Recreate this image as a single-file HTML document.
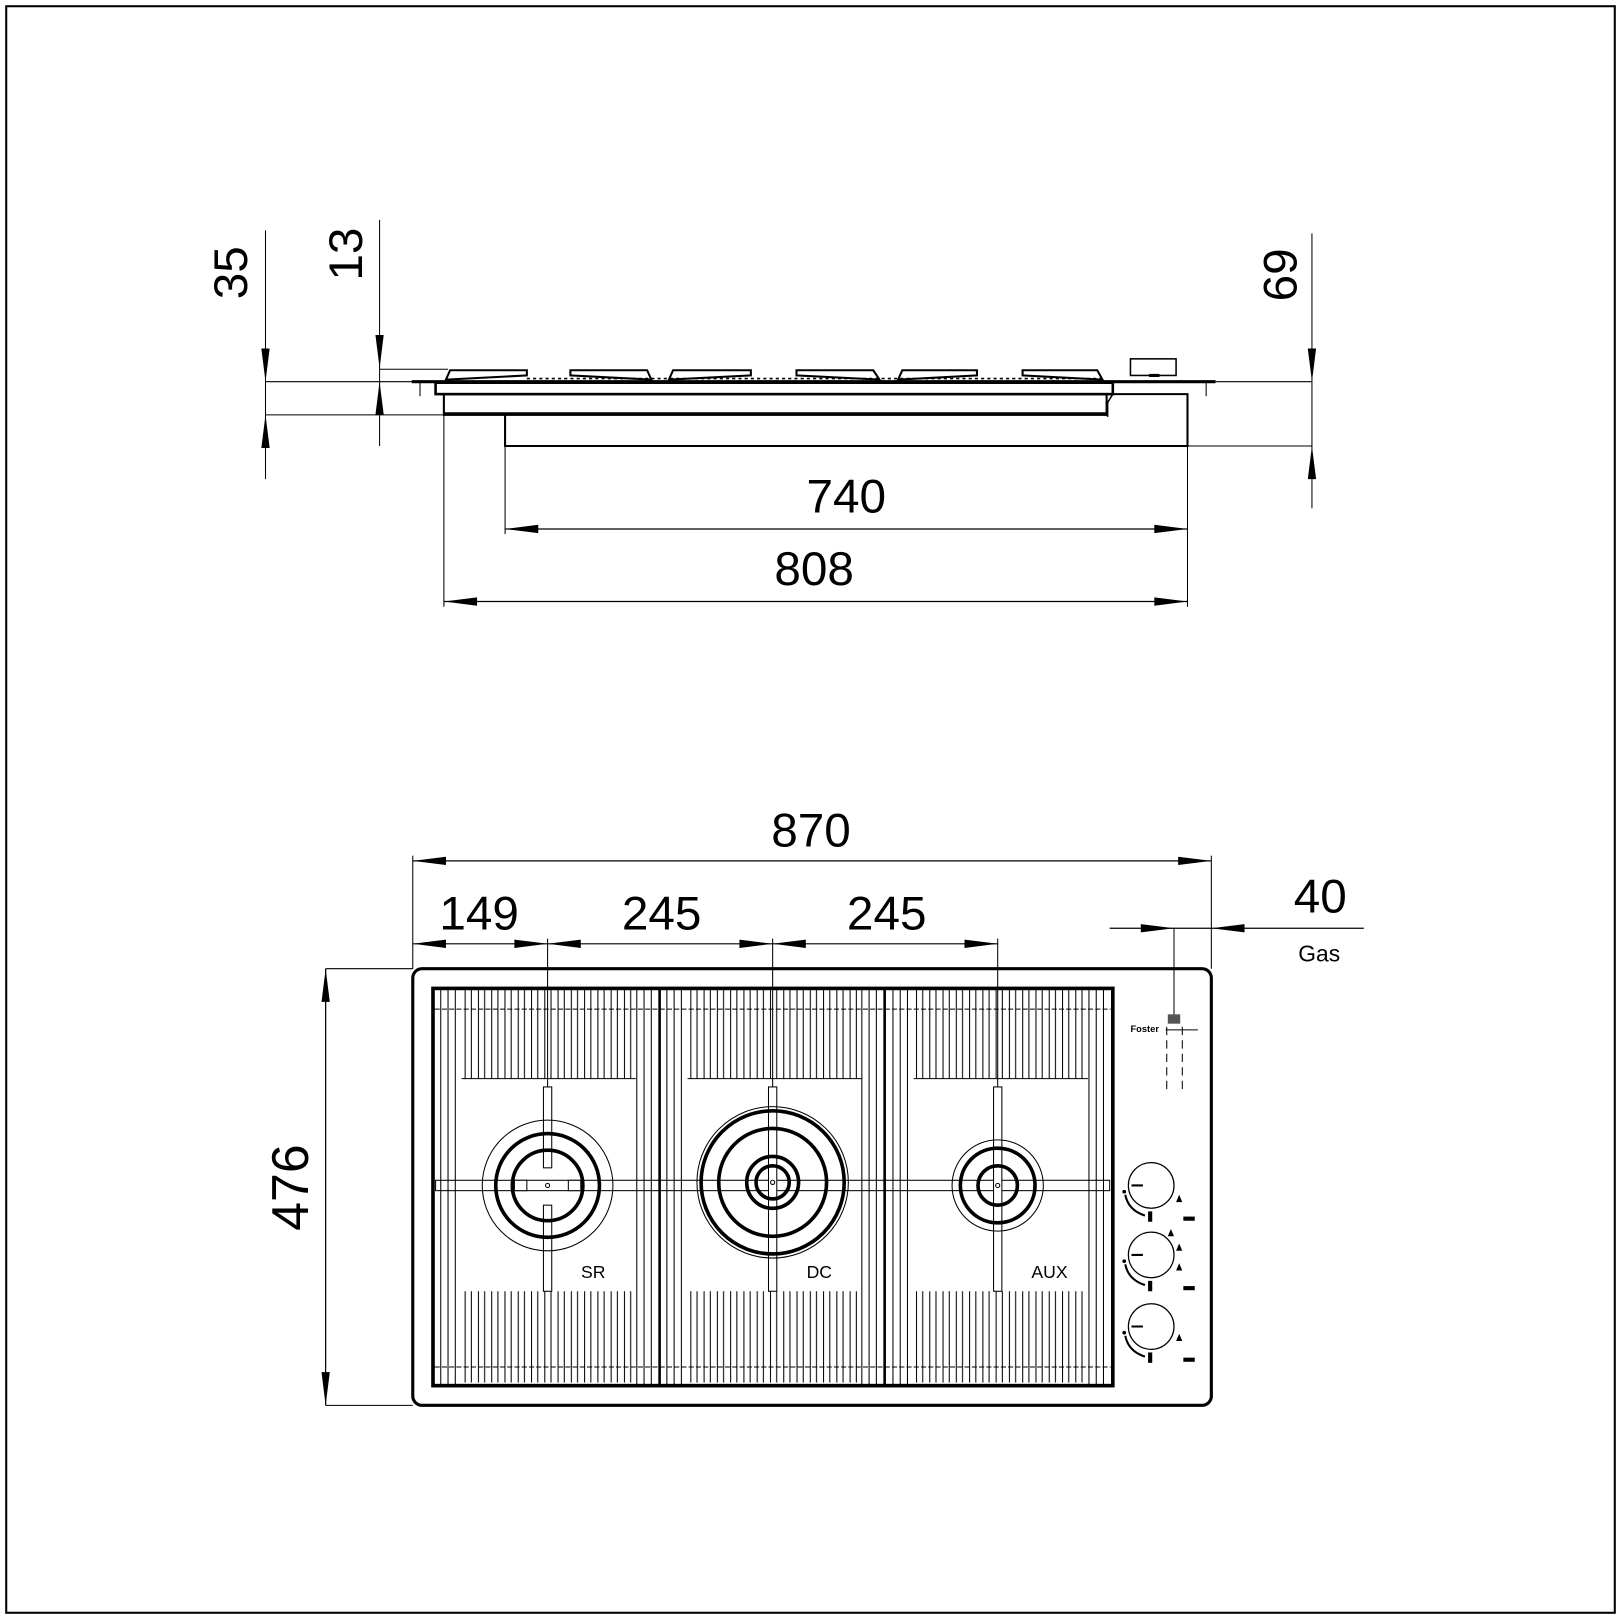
<!DOCTYPE html>
<html><head><meta charset="utf-8"><style>
html,body{margin:0;padding:0;background:#fff}
svg{display:block}
text{font-family:"Liberation Sans",sans-serif;fill:#000}
</style></head><body>
<svg width="1621" height="1619" viewBox="0 0 1563 1561" preserveAspectRatio="none" xmlns="http://www.w3.org/2000/svg">
<defs>
<pattern id="comb" x="0" y="0" width="12.8" height="10" patternUnits="userSpaceOnUse">
<line x1="0.5" y1="0" x2="0.5" y2="10" stroke="#000" stroke-width="1"/>
<line x1="6.5" y1="0" x2="6.5" y2="10" stroke="#000" stroke-width="1"/>
</pattern>
</defs>
<rect x="6" y="6" width="1551" height="1549" fill="none" stroke="#000" stroke-width="2"/>

<!-- ===== TOP (side) VIEW ===== -->
<g stroke="#000" fill="none">
<!-- 35 dim -->
<line x1="256" y1="222" x2="256" y2="462" stroke-width="1"/>
<line x1="256" y1="368" x2="420" y2="368" stroke-width="1"/>
<line x1="256" y1="400" x2="430" y2="400" stroke-width="1"/>
<!-- 13 dim -->
<line x1="366" y1="212" x2="366" y2="430" stroke-width="1"/>
<line x1="366" y1="356" x2="432" y2="356" stroke-width="1"/>
<!-- 69 dim -->
<line x1="1265" y1="225" x2="1265" y2="490" stroke-width="1"/>
<line x1="1170" y1="368" x2="1265" y2="368" stroke-width="1"/>
<line x1="1145" y1="430" x2="1265" y2="430" stroke-width="1"/>
<!-- flange -->
<line x1="397" y1="368" x2="1172" y2="368" stroke-width="3"/>
<line x1="405" y1="368" x2="405" y2="382" stroke-width="1"/>
<line x1="1163" y1="368" x2="1163" y2="382" stroke-width="1"/>
<!-- body -->
<rect x="420" y="369" width="653" height="11" stroke-width="2.5"/>
<rect x="428" y="380" width="639" height="20" stroke-width="2"/>
<line x1="428" y1="399" x2="1067" y2="399" stroke-width="3"/>
<polyline points="1073,380 1145,380 1145,430 487,430 487,400" stroke-width="2"/>
<polyline points="1073,380 1068,388 1068,402" stroke-width="1.5"/>
<!-- burner caps -->
<polygon points="434,357 508,357 508,362 430,366" stroke-width="2"/>
<polygon points="550,357 624,357 628,366 550,362" stroke-width="2"/>
<polygon points="649,357 724,357 724,362 645,366" stroke-width="2"/>
<polygon points="768,357 842,357 848,366 768,362" stroke-width="2"/>
<polygon points="870,357 942,357 942,362 866,366" stroke-width="2"/>
<polygon points="986,357 1058,357 1063,366 986,362" stroke-width="2"/>
<line x1="508" y1="365" x2="1063" y2="365" stroke-width="1.5" stroke-dasharray="3,3"/>
<rect x="1090" y="346" width="44" height="16" stroke-width="1.5"/>
<line x1="1108" y1="362" x2="1118" y2="362" stroke-width="3"/>
<!-- 740 -->
<line x1="487" y1="430" x2="487" y2="515" stroke-width="1"/>
<line x1="1145" y1="430" x2="1145" y2="585" stroke-width="1"/>
<line x1="487" y1="510" x2="1145" y2="510" stroke-width="1.2"/>
<!-- 808 -->
<line x1="428" y1="400" x2="428" y2="585" stroke-width="1"/>
<line x1="428" y1="580" x2="1145" y2="580" stroke-width="1.2"/>
</g>
<g fill="#000">
<polygon points="256,368 252,336 260,336"/><polygon points="256,400 252,432 260,432"/>
<polygon points="366,355 362,323 370,323"/><polygon points="366,368 362,400 370,400"/>
<polygon points="1265,368 1261,336 1269,336"/><polygon points="1265,430 1261,462 1269,462"/>
<polygon points="487,510 519,506 519,514"/><polygon points="1145,510 1113,506 1113,514"/>
<polygon points="428,580 460,576 460,584"/><polygon points="1145,580 1113,576 1113,584"/>
</g>
<text transform="translate(238,263) rotate(-90)" text-anchor="middle" font-size="46">35</text>
<text transform="translate(349,245) rotate(-90)" text-anchor="middle" font-size="46">13</text>
<text transform="translate(1250,265) rotate(-90)" text-anchor="middle" font-size="46">69</text>
<text x="816" y="494" text-anchor="middle" font-size="46">740</text>
<text x="785" y="564" text-anchor="middle" font-size="46">808</text>

<!-- ===== BOTTOM (plan) VIEW ===== -->
<g stroke="#000" fill="none" stroke-width="1">
<line x1="398" y1="825" x2="398" y2="934"/>
<line x1="1168" y1="825" x2="1168" y2="934"/>
<line x1="398" y1="830" x2="1168" y2="830" stroke-width="1.2"/>
<line x1="398" y1="910" x2="962" y2="910" stroke-width="1.2"/>
<line x1="528" y1="905" x2="528" y2="1048"/>
<line x1="745" y1="905" x2="745" y2="1048"/>
<line x1="962" y1="905" x2="962" y2="1048"/>
<line x1="1070" y1="895" x2="1315" y2="895" stroke-width="1.2"/>
<line x1="1132" y1="895" x2="1132" y2="985"/>
<line x1="1125" y1="990" x2="1125" y2="1055" stroke-dasharray="8,5"/>
<line x1="1140" y1="990" x2="1140" y2="1055" stroke-dasharray="8,5"/>
<line x1="314" y1="934" x2="398" y2="934"/>
<line x1="314" y1="1355" x2="398" y2="1355"/>
<line x1="314" y1="934" x2="314" y2="1355" stroke-width="1.2"/>
<rect x="398" y="934" width="770" height="421" rx="9" stroke-width="3"/>
</g>
<g fill="#000">
<polygon points="398,830 430,826 430,834"/><polygon points="1168,830 1136,826 1136,834"/>
<polygon points="398,910 430,906 430,914"/>
<polygon points="528,910 496,906 496,914"/><polygon points="528,910 560,906 560,914"/>
<polygon points="745,910 713,906 713,914"/><polygon points="745,910 777,906 777,914"/>
<polygon points="962,910 930,906 930,914"/>
<polygon points="1132,895 1100,891 1100,899"/><polygon points="1168,895 1200,891 1200,899"/>
<polygon points="314,934 310,966 318,966"/><polygon points="314,1355 310,1323 318,1323"/>
</g>
<text x="782" y="816" text-anchor="middle" font-size="46">870</text>
<text x="462" y="896" text-anchor="middle" font-size="46">149</text>
<text x="638" y="896" text-anchor="middle" font-size="46">245</text>
<text x="855" y="896" text-anchor="middle" font-size="46">245</text>
<text x="1273" y="880" text-anchor="middle" font-size="46">40</text>
<text x="1272" y="927" text-anchor="middle" font-size="22">Gas</text>
<text transform="translate(297,1145) rotate(-90)" text-anchor="middle" font-size="50">476</text>

<!-- grates -->
<g stroke="#000" fill="none" stroke-width="1">
<rect x="445" y="953" width="168" height="87" fill="url(#comb)" stroke="none"/>
<rect x="445" y="1245" width="168" height="88" fill="url(#comb)" stroke="none"/>
<rect x="663" y="953" width="168" height="87" fill="url(#comb)" stroke="none"/>
<rect x="663" y="1245" width="168" height="88" fill="url(#comb)" stroke="none"/>
<rect x="881" y="953" width="168" height="87" fill="url(#comb)" stroke="none"/>
<rect x="881" y="1245" width="168" height="88" fill="url(#comb)" stroke="none"/>
<!-- side bars -->
<path d="M425 953V1336M432 953V1336M439 953V1336M614 953V1336M621 953V1336M628 953V1336
M643 953V1336M650 953V1336M657 953V1336M831 953V1336M838 953V1336M845 953V1336
M861 953V1336M868 953V1336M875 953V1336M1050 953V1336M1057 953V1336M1064 953V1336"/>
<line x1="445" y1="1040" x2="613" y2="1040"/>
<line x1="663" y1="1040" x2="831" y2="1040"/>
<line x1="881" y1="1040" x2="1049" y2="1040"/>
<line x1="419" y1="973" x2="1071" y2="973" stroke-dasharray="5,2"/>
<line x1="419" y1="1318" x2="1071" y2="1318" stroke-dasharray="5,2"/>
<line x1="636" y1="953" x2="636" y2="1336" stroke-width="2.5"/>
<line x1="853" y1="953" x2="853" y2="1336" stroke-width="2.5"/>
<rect x="417.5" y="953" width="655.5" height="383" stroke-width="3.5"/>
</g>
<!-- cross bars -->
<g stroke="#000" fill="#fff" stroke-width="1">
<rect x="420" y="1138" width="650" height="10" fill="none"/>
<rect x="524" y="1048" width="8" height="78"/>
<rect x="524" y="1162" width="8" height="83"/>
<rect x="741" y="1048" width="8" height="197"/>
<rect x="958" y="1048" width="8" height="197"/>
</g>
<!-- burners -->
<g fill="none" stroke="#000">
<circle cx="528" cy="1143" r="63" stroke-width="1"/>
<circle cx="528" cy="1143" r="50" stroke-width="3.5"/>
<circle cx="528" cy="1143" r="34" stroke-width="3.5"/>
<circle cx="745" cy="1140" r="73" stroke-width="1"/>
<circle cx="745" cy="1140" r="69" stroke-width="3.5"/>
<circle cx="745" cy="1140" r="52" stroke-width="3.5"/>
<circle cx="745" cy="1140" r="25" stroke-width="3.5"/>
<circle cx="745" cy="1140" r="16" stroke-width="3.5"/>
<circle cx="962" cy="1143" r="44" stroke-width="1"/>
<circle cx="962" cy="1143" r="36" stroke-width="3.5"/>
<circle cx="962" cy="1143" r="19" stroke-width="3.5"/>
</g>
<g fill="#fff" stroke="#000" stroke-width="1">
<rect x="496" y="1138" width="12" height="10"/>
<rect x="548" y="1138" width="12" height="10"/>
<circle cx="528" cy="1143" r="2"/><circle cx="745" cy="1140" r="2"/><circle cx="962" cy="1143" r="2"/>
</g>
<text x="572" y="1232" text-anchor="middle" font-size="17">SR</text>
<text x="790" y="1232" text-anchor="middle" font-size="17">DC</text>
<text x="1012" y="1232" text-anchor="middle" font-size="17">AUX</text>
<!-- logo -->
<text x="1090" y="995" font-size="9" font-weight="bold">Foster</text>
<rect x="1126" y="978" width="12" height="9" fill="#555"/>
<line x1="1124" y1="993" x2="1155" y2="993" stroke="#000" stroke-width="1"/>
<!-- knobs -->
<g fill="none" stroke="#000">
<circle cx="1110" cy="1143" r="22" stroke-width="1.2"/>
<circle cx="1110" cy="1210" r="22" stroke-width="1.2"/>
<circle cx="1110" cy="1279" r="22" stroke-width="1.2"/>
<path d="M1091 1143H1102M1091 1210H1102M1091 1279H1102" stroke-width="2"/>
<path d="M1085 1152Q1088 1167 1104 1172M1085 1219Q1088 1234 1104 1239M1085 1288Q1088 1303 1104 1308" stroke-width="2"/>
</g>
<g fill="#000">
<circle cx="1084" cy="1149" r="1.8"/><circle cx="1084" cy="1216" r="1.8"/><circle cx="1084" cy="1285" r="1.8"/>
<rect x="1107" y="1168" width="4" height="10"/><rect x="1107" y="1235" width="4" height="10"/><rect x="1107" y="1304" width="4" height="10"/>
<rect x="1141" y="1173" width="11" height="4"/><rect x="1141" y="1240" width="11" height="4"/><rect x="1141" y="1309" width="11" height="4"/>
<polygon points="1137,1152 1134,1159 1140,1159"/>
<polygon points="1129,1185 1126,1192 1132,1192"/>
<polygon points="1137,1199 1134,1206 1140,1206"/>
<polygon points="1137,1218 1134,1225 1140,1225"/>
<polygon points="1137,1286 1134,1293 1140,1293"/>
</g>
</svg>
</body></html>
